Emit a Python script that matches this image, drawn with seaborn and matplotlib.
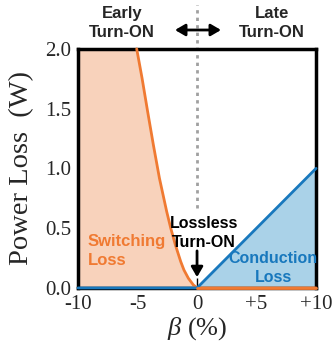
import matplotlib
matplotlib.use("Agg")
import matplotlib.pyplot as plt
import seaborn as sns
import pandas as pd

# data
beta_sw = [-10, -5.07, -4.62, -4.15, -3.67, -3.16, -2.55, -2.21, -1.82, -1.37, -1.1, -0.73, -0.31, 0, 10]
loss_sw = [2.0, 2.0, 1.755, 1.475, 1.197, 0.918, 0.639, 0.50, 0.36, 0.22, 0.15, 0.081, 0.025, 0, 0]
beta_cd = [-10, 0, 10]
loss_cd = [0, 0, 1.0]
xticks = [-10, -5, 0, 5, 10]
xticklabels = ["-10", "-5", "0", "+5", "+10"]
yticks = [0.0, 0.5, 1.0, 1.5, 2.0]
yticklabels = ["0.0", "0.5", "1.0", "1.5", "2.0"]

sns.set_style("ticks")
plt.rcParams["font.family"] = ["Liberation Serif", "DejaVu Serif"]
plt.rcParams["mathtext.fontset"] = "custom"
plt.rcParams["mathtext.it"] = "Liberation Serif:italic"
plt.rcParams["mathtext.rm"] = "Liberation Serif"

ORANGE = "#f07a32"
ORANGE_FILL = "#f8d2bb"
BLUE = "#1878bd"
BLUE_FILL = "#aad2e8"

fig = plt.figure(figsize=(3.32, 3.49), dpi=100)
ax = fig.add_axes([0.235, 0.175, 0.717, 0.685])

df_sw = pd.DataFrame({"beta": beta_sw, "loss": loss_sw})
df_cd = pd.DataFrame({"beta": beta_cd, "loss": loss_cd})

ax.fill_between(df_sw["beta"], 0, df_sw["loss"], color=ORANGE_FILL, lw=0, zorder=1)
pos = df_cd[df_cd["beta"] >= 0]
ax.fill_between(pos["beta"], 0, pos["loss"], color=BLUE_FILL, lw=0, zorder=1)

sns.lineplot(data=df_sw.iloc[1:], x="beta", y="loss", sort=False, estimator=None,
             color=ORANGE, lw=2, ax=ax, zorder=3, clip_on=False)
sns.lineplot(data=df_cd, x="beta", y="loss", sort=False, estimator=None,
             color=BLUE, lw=2, ax=ax, zorder=3.1, clip_on=False)
sns.lineplot(data=df_sw[df_sw["beta"] >= 0], x="beta", y="loss", sort=False, estimator=None,
             color=ORANGE, lw=2, ax=ax, zorder=3.2, clip_on=False)

ax.set_xlim(-10, 10)
ax.set_ylim(0, 2.0)
ax.set_xticks(xticks)
ax.set_xticklabels(xticklabels)
ax.set_yticks(yticks)
ax.set_yticklabels(yticklabels)
ax.tick_params(direction="in", length=7, width=1, labelsize=15, pad=5, color="black")
for s in ax.spines.values():
    s.set_linewidth(2.5)
    s.set_color("black")
ax.set_xlabel(r"$\beta$ (%)", fontsize=19, labelpad=1)
ax.set_ylabel("Power Loss  (W)", fontsize=20.5, labelpad=8)

# dotted vertical divider
ax.axvline(0, ymin=0.335, ymax=1.185, color="#a0a0a0", ls=(0, (1.2, 1.5)), lw=2,
           clip_on=False, zorder=0.5)

bold = dict(family=["Liberation Sans", "DejaVu Sans"], fontweight="bold", fontsize=12)
fig.text(122 / 332, 1 - 23 / 349, "Early\nTurn-ON", ha="center", va="center",
         linespacing=1.35, **bold)
fig.text(272 / 332, 1 - 23 / 349, "Late\nTurn-ON", ha="center", va="center",
         linespacing=1.35, **bold)
fig.patches.append(matplotlib.patches.FancyArrowPatch(
    (175 / 332, 1 - 30 / 349), (221 / 332, 1 - 30 / 349), transform=fig.transFigure,
    arrowstyle="<|-|>,head_length=6,head_width=3.5", lw=2, color="black",
    mutation_scale=1, shrinkA=0, shrinkB=0))

ax.text(0.6, 0.46, "Lossless\nTurn-ON", ha="center", va="center", linespacing=1.35,
        color="black", family=["Liberation Sans", "DejaVu Sans"], fontweight="bold",
        fontsize=11.5)
ax.annotate("", xy=(0, 0.09), xytext=(0, 0.31),
            arrowprops=dict(arrowstyle="-|>,head_length=6,head_width=3.5",
                            mutation_scale=1, lw=2, color="black", shrinkA=0, shrinkB=0))
ax.text(-9.2, 0.31, "Switching\nLoss", ha="left", va="center", linespacing=1.35,
        color=ORANGE, **bold)
ax.text(6.4, 0.17, "Conduction\nLoss", ha="center", va="center", linespacing=1.35,
        color=BLUE, family=["Liberation Sans", "DejaVu Sans"], fontweight="bold",
        fontsize=11.5)

fig.savefig("out.png", dpi=100)
